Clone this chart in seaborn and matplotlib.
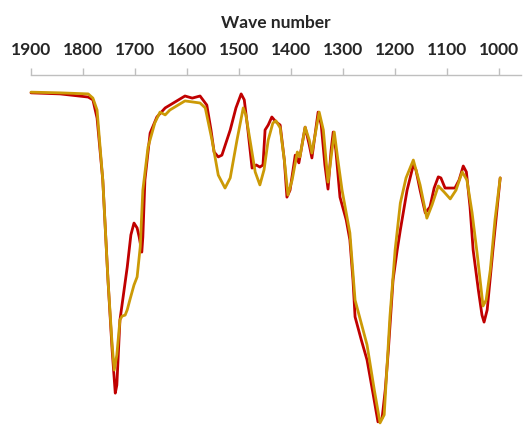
import matplotlib.pyplot as plt
import seaborn as sns
import pandas as pd

# FTIR spectra, values (transmittance, arbitrary %)
red_wavenumber = [1900, 1844, 1790, 1781, 1773, 1762, 1752, 1744, 1738, 1735, 1729, 1715,
                  1708, 1702, 1696, 1692, 1687, 1685, 1681, 1671, 1658, 1642, 1623, 1604,
                  1590, 1575, 1562, 1554, 1548, 1540, 1533, 1517, 1506, 1496, 1490, 1483,
                  1475, 1467, 1460, 1454, 1450, 1444, 1437, 1429, 1421, 1413, 1408, 1402,
                  1392, 1385, 1379, 1373, 1365, 1360, 1354, 1348, 1342, 1335, 1329, 1323,
                  1319, 1314, 1306, 1294, 1287, 1281, 1277, 1265, 1254, 1242, 1233, 1225,
                  1219, 1213, 1204, 1196, 1190, 1177, 1165, 1160, 1152, 1142, 1133, 1125,
                  1117, 1112, 1104, 1085, 1077, 1069, 1063, 1056, 1050, 1040, 1033, 1029,
                  1023, 1012, 998]
red_signal = [94.9, 94.6, 93.7, 92.9, 87.7, 70.0, 41.4, 21.4, 9.1, 11.4, 30.0, 45.1,
              54.3, 57.7, 56.3, 53.7, 49.4, 53.7, 70.0, 83.4, 88.0, 90.6, 92.3, 94.0,
              93.4, 94.0, 91.4, 84.3, 78.0, 76.6, 77.1, 84.3, 90.6, 94.6, 92.9, 84.3,
              73.4, 74.3, 73.7, 74.3, 84.3, 85.7, 88.0, 86.6, 85.7, 75.7, 65.1, 67.1,
              77.1, 74.9, 80.0, 85.1, 80.0, 76.3, 82.9, 89.4, 85.7, 74.3, 67.4, 78.6,
              83.7, 78.6, 65.1, 58.6, 52.9, 41.4, 30.9, 24.3, 18.6, 8.6, 0.9, 2.0,
              10.0, 21.4, 41.4, 50.0, 55.7, 67.1, 74.3, 72.9, 67.1, 60.6, 62.3, 67.7,
              70.9, 70.6, 67.7, 67.7, 70.0, 74.0, 72.3, 62.3, 50.0, 38.6, 31.4, 29.4,
              32.9, 50.0, 70.6]

gold_wavenumber = [1900, 1844, 1790, 1781, 1773, 1762, 1752, 1744, 1740, 1735, 1729, 1725,
                   1719, 1715, 1710, 1702, 1696, 1690, 1685, 1675, 1662, 1652, 1642, 1633,
                   1604, 1575, 1565, 1552, 1540, 1527, 1517, 1504, 1492, 1487, 1479, 1469,
                   1460, 1452, 1444, 1435, 1429, 1421, 1413, 1406, 1398, 1388, 1383, 1373,
                   1365, 1360, 1346, 1338, 1329, 1317, 1310, 1302, 1287, 1277, 1254, 1240,
                   1229, 1221, 1210, 1200, 1190, 1179, 1165, 1152, 1139, 1129, 1117, 1106,
                   1094, 1083, 1071, 1062, 1052, 1042, 1031, 1025, 1017, 1008, 998]
gold_signal = [95.1, 94.9, 94.6, 93.4, 90.0, 70.0, 41.4, 22.9, 15.7, 20.0, 30.0, 31.1,
               31.4, 32.9, 35.7, 40.0, 42.3, 50.9, 67.1, 79.4, 86.3, 89.4, 88.6, 90.0,
               92.6, 92.0, 90.6, 81.4, 71.4, 67.7, 70.6, 81.4, 90.6, 88.6, 81.4, 72.3,
               68.6, 72.9, 81.4, 86.3, 86.9, 84.9, 75.7, 65.7, 70.0, 78.0, 76.6, 85.1,
               81.4, 77.7, 89.4, 84.3, 69.4, 83.7, 75.7, 67.1, 54.9, 35.7, 22.9, 10.0,
               0.6, 2.9, 30.9, 50.0, 63.4, 70.6, 75.7, 68.6, 59.1, 62.9, 68.3, 66.6,
               64.6, 67.1, 72.3, 70.0, 60.6, 48.6, 34.0, 35.7, 44.3, 58.6, 70.6]

tick_values = [1900, 1800, 1700, 1600, 1500, 1400, 1300, 1200, 1100, 1000]

red_df = pd.DataFrame({'wavenumber': red_wavenumber, 'signal': red_signal})
gold_df = pd.DataFrame({'wavenumber': gold_wavenumber, 'signal': gold_signal})

sns.set_style('white')
plt.rcParams['font.family'] = ['Lato', 'DejaVu Sans']

fig = plt.figure(figsize=(5.23, 4.25), dpi=100)
ax = fig.add_axes([31 / 523, 0.0, 490 / 523, 350 / 425])

sns.lineplot(data=red_df, x='wavenumber', y='signal', sort=False, color='#C00000',
             linewidth=2.0, ax=ax, clip_on=False)
sns.lineplot(data=gold_df, x='wavenumber', y='signal', sort=False, color='#CC9A06',
             linewidth=2.0, ax=ax, clip_on=False)

ax.set_xlim(1900, 958)
ax.set_ylim(0, 100)

for side in ['left', 'right', 'bottom']:
    ax.spines[side].set_visible(False)
ax.spines['top'].set_color('#BFBFBF')
ax.spines['top'].set_linewidth(1.0)

ax.xaxis.set_ticks_position('top')
ax.xaxis.set_label_position('top')
ax.set_xticks(tick_values)
ax.set_xticklabels([str(t) for t in tick_values], fontsize=12.5, fontweight='bold')
ax.tick_params(axis='x', direction='out', length=5, width=1.0, color='#BFBFBF', pad=7)
ax.set_yticks([])
ax.set_ylabel('')
ax.set_xlabel('Wave number', fontsize=12.5, fontweight='bold', labelpad=10)

fig.savefig('out.png', dpi=100)
